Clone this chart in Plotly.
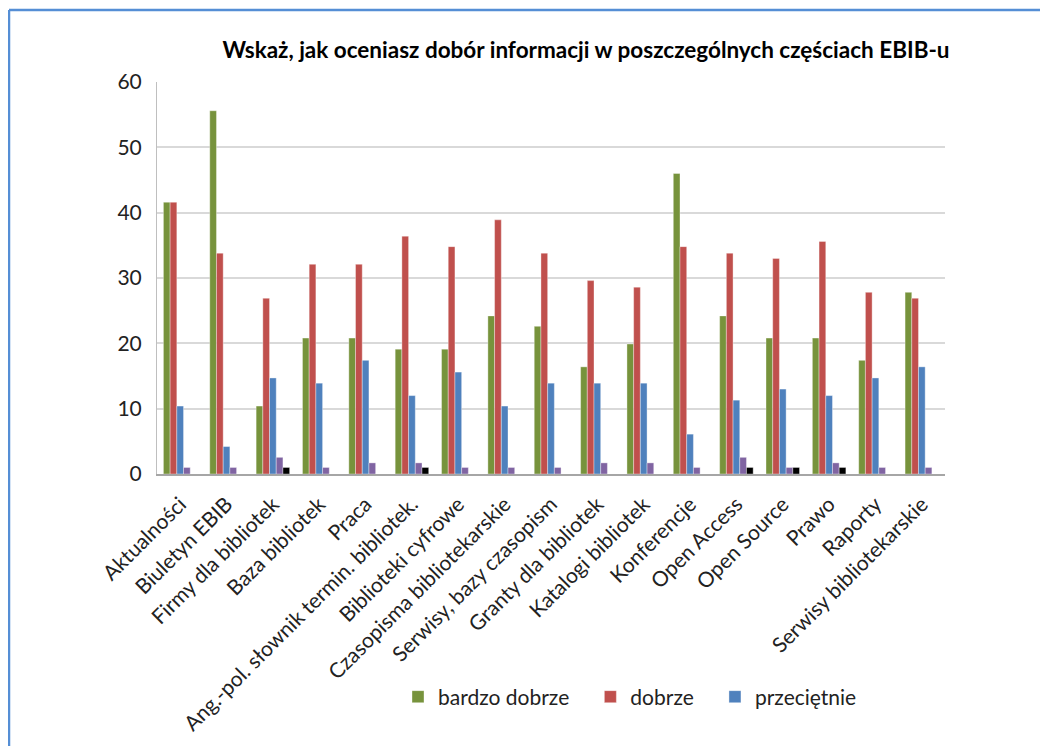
import plotly.graph_objects as go

categories = ["Aktualności", "Biuletyn EBIB", "Firmy dla bibliotek", "Baza bibliotek", "Praca",
              "Ang.-pol. słownik termin. bibliotek.", "Biblioteki cyfrowe", "Czasopisma bibliotekarskie",
              "Serwisy, bazy czasopism", "Granty dla bibliotek", "Katalogi bibliotek", "Konferencje",
              "Open Access", "Open Source", "Prawo", "Raporty", "Serwisy bibliotekarskie"]

bardzo_dobrze = [41.6, 55.6, 10.4, 20.8, 20.8, 19.1, 19.1, 24.2, 22.6, 16.4, 19.9, 46.0, 24.2, 20.8, 20.8, 17.4, 27.8]
dobrze = [41.6, 33.8, 26.9, 32.1, 32.1, 36.4, 34.8, 38.9, 33.8, 29.6, 28.6, 34.8, 33.8, 33.0, 35.6, 27.8, 26.9]
przecietnie = [10.4, 4.2, 14.7, 13.9, 17.4, 12.0, 15.6, 10.4, 13.9, 13.9, 13.9, 6.1, 11.3, 13.0, 12.0, 14.7, 16.4]
slabo = [1.0, 1.0, 2.55, 1.0, 1.7, 1.7, 1.0, 1.0, 1.0, 1.7, 1.7, 1.0, 2.55, 1.0, 1.7, 1.0, 1.0]
zle = [0, 0, 1.0, 0, 0, 1.0, 0, 0, 0, 0, 0, 0, 1.0, 1.0, 1.0, 0, 0]

series = [
    ("bardzo dobrze", bardzo_dobrze, "#77933C", True, "\u00a0\u00a0\u00a0"),
    ("dobrze", dobrze, "#C0504D", True, "\u00a0\u00a0\u00a0"),
    ("przeciętnie", przecietnie, "#4F81BD", True, ""),
    ("słabo", slabo, "#8064A2", False, ""),
    ("źle", zle, "#000000", False, ""),
]

FONT = "Lato, Open Sans, sans-serif"

fig = go.Figure()
for name, vals, color, show, pad in series:
    fig.add_trace(go.Bar(
        x=categories, y=vals, name=name + pad, showlegend=show,
        marker=dict(color=color, line=dict(color="rgba(255,255,255,0.6)", width=0.6)),
    ))

OFF = 8  # page body margin
W, H = 1040, 738
L, R, T, B = 157 - OFF, 103, 82 - OFF, 272
pw, ph = W - L - R, H - T - B

def px(x):
    return (x - OFF - L) / pw

def py(y):
    return (H - B - (y - OFF)) / ph

fig.update_layout(
    width=W, height=H,
    margin=dict(l=L, r=R, t=T, b=B),
    paper_bgcolor="white", plot_bgcolor="white",
    barmode="group", bargap=0.277, bargroupgap=0,
    font=dict(family=FONT, color="#222222"),
    title=dict(text="<b>Wskaż, jak oceniasz dobór informacji w poszczególnych częściach EBIB-u</b>",
               x=px(586), xref="paper", xanchor="center", y=1 - (50 - OFF) / H, yanchor="middle",
               font=dict(size=22.5, family=FONT, color="#000000")),
    xaxis=dict(tickangle=-45, tickfont=dict(size=21, family=FONT, color="#222222"), automargin=False,
               ticklabelstandoff=8,
               showline=True, linecolor="#A6A6A6", linewidth=1.5, ticks="", showgrid=False),
    yaxis=dict(range=[0, 60], dtick=10, tickfont=dict(size=21, family=FONT, color="#222222"),
               automargin=False, ticklabelstandoff=10,
               showline=True, linecolor="#BFBFBF", linewidth=1, gridcolor="#D9D9D9", gridwidth=1.5,
               ticks="", ticklen=0, zeroline=False),
    legend=dict(orientation="h", x=px(398), xanchor="left", y=py(697), yanchor="middle",
                font=dict(size=21, family=FONT, color="#222222"), itemwidth=30, traceorder="normal"),
    shapes=[
        dict(type="line", xref="paper", yref="paper", x0=px(9), x1=px(1060), y0=py(10), y1=py(10),
             line=dict(color="#558ED5", width=2.5)),
        dict(type="line", xref="paper", yref="paper", x0=px(9), x1=px(9), y0=py(10), y1=py(760),
             line=dict(color="#558ED5", width=2.5)),
    ],
)

fig.write_html("out.html")
